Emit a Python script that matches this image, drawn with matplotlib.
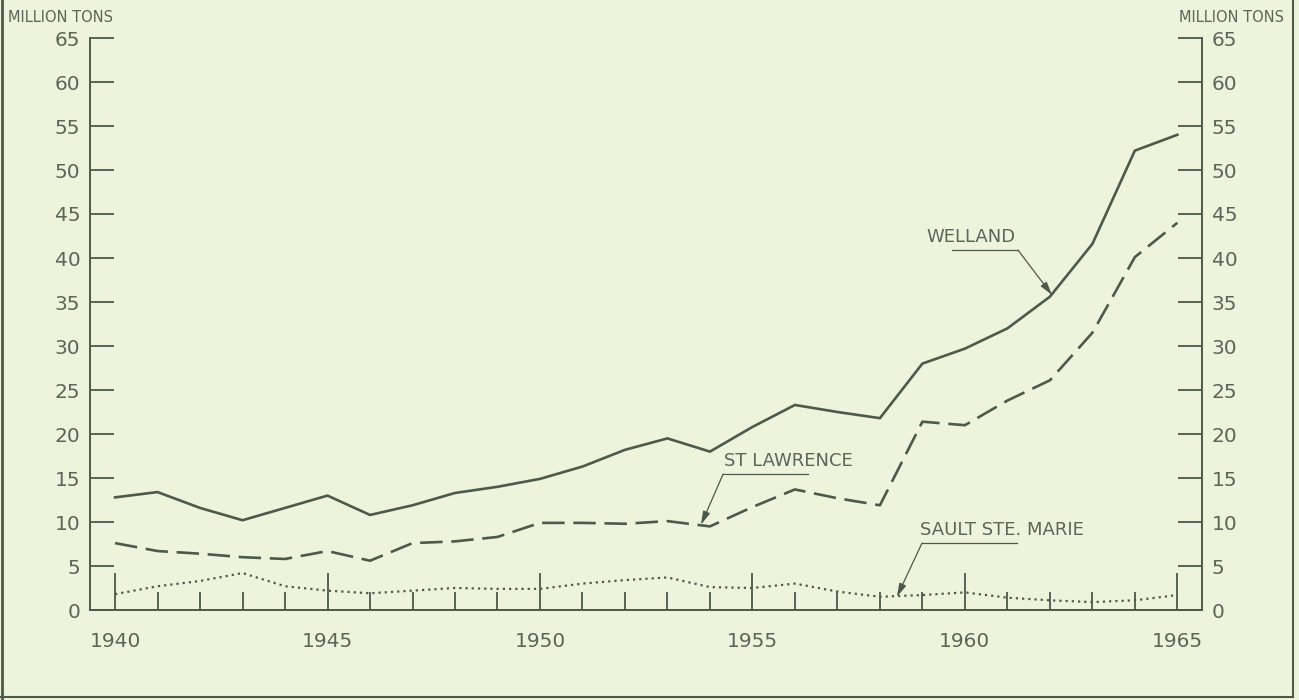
import numpy as np
import matplotlib
matplotlib.use("Agg")
import matplotlib.pyplot as plt
from matplotlib.lines import Line2D
from matplotlib.ticker import MultipleLocator

# tonnage through the canals, million tons
years = list(range(1940, 1966))
welland = [12.8, 13.4, 11.6, 10.2, 11.6, 13.0, 10.8, 11.9, 13.3, 14.0,
           14.9, 16.3, 18.2, 19.5, 18.0, 20.8, 23.3, 22.5, 21.8, 28.0,
           29.7, 32.0, 35.6, 41.6, 52.2, 54.0]
st_lawrence = [7.6, 6.7, 6.4, 6.0, 5.8, 6.7, 5.6, 7.6, 7.8, 8.3,
               9.9, 9.9, 9.8, 10.1, 9.5, 11.7, 13.7, 12.7, 11.9, 21.4,
               21.0, 23.8, 26.1, 31.5, 40.1, 44.0]
sault = [1.8, 2.7, 3.3, 4.2, 2.7, 2.2, 1.9, 2.2, 2.5, 2.4,
         2.4, 3.0, 3.4, 3.7, 2.6, 2.5, 3.0, 2.1, 1.5, 1.7,
         2.0, 1.4, 1.1, 0.9, 1.1, 1.7]
yticks = list(range(0, 70, 5))
xlabels = [1940, 1945, 1950, 1955, 1960, 1965]

bg = '#eef3dc'
ink = '#4c5a4b'
txt = '#5b6659'

plt.rcParams['font.family'] = ['DejaVu Sans']

fig = plt.figure(figsize=(12.99, 7.0), dpi=100, facecolor=bg)
ax = fig.add_axes([90 / 1299, 90 / 700, 1112 / 1299, 572 / 700])
ax.set_facecolor(bg)

ax.plot(years, welland, color=ink, lw=1.9, solid_joinstyle='miter')
ax.plot(years, st_lawrence, color=ink, lw=1.9, dashes=(8.5, 3.3))
ax.plot(years, sault, color=ink, lw=1.6, linestyle=(0, (1, 1.8)))

ax.set_xlim(1939.41, 1965.58)
ax.set_ylim(0, 65)

ax.spines['top'].set_visible(False)
for s in ['left', 'right', 'bottom']:
    ax.spines[s].set_color(ink)
    ax.spines[s].set_linewidth(1.4)

ax.set_yticks(yticks)
ax.set_yticklabels([str(v) for v in yticks])
ax.tick_params(axis='y', direction='in', length=17, width=1.3, color=ink,
               left=True, right=True, labelleft=True, labelright=True,
               labelsize=14.5, labelcolor=txt, pad=7)
ax.set_xticks(xlabels)
ax.set_xticklabels([str(v) for v in xlabels])
ax.xaxis.set_minor_locator(MultipleLocator(1))
ax.tick_params(axis='x', which='major', direction='in', length=27, width=1.3,
               color=ink, labelsize=14.5, labelcolor=txt, pad=16)
ax.tick_params(axis='x', which='minor', direction='in', length=13, width=1.3,
               color=ink)

# labels with leader lines
def label(text, tx, ty, ux0, ux1, uy, ax_, ay_, start):
    ax.text(tx, ty, text, fontsize=13, color=txt, ha='left', va='bottom')
    ax.plot([ux0, ux1], [uy, uy], color=ink, lw=0.9)
    sx = ux1 if start == 'right' else ux0
    ax.annotate('', xy=(ax_, ay_), xytext=(sx, uy),
                arrowprops=dict(arrowstyle='-|>,head_length=0.8,head_width=0.22',
                                color=ink, lw=0.9, shrinkA=0, shrinkB=0))

label('WELLAND', 1959.1, 41.4, 1959.69, 1961.25, 40.9, 1962.05, 35.8, 'right')
label('ST LAWRENCE', 1954.33, 15.9, 1954.31, 1956.31, 15.45, 1953.79, 9.7, 'left')
label('SAULT STE. MARIE', 1958.94, 8.1, 1958.99, 1961.22, 7.6, 1958.4, 1.5, 'left')

fig.text(8 / 1299, 1 - 18 / 700, 'MILLION TONS', fontsize=10.5, color=txt,
         ha='left', va='center')
fig.text(1284 / 1299, 1 - 18 / 700, 'MILLION TONS', fontsize=10.5, color=txt,
         ha='right', va='center')

# page border
fig.add_artist(Line2D([2 / 1299, 2 / 1299], [0, 1], color=ink, lw=2))
fig.add_artist(Line2D([1293 / 1299, 1293 / 1299], [3 / 700, 1], color=ink, lw=1.5))
fig.add_artist(Line2D([0, 1293 / 1299], [3 / 700, 3 / 700], color=ink, lw=1.5))

fig.savefig('out.png', dpi=100, facecolor=bg)
